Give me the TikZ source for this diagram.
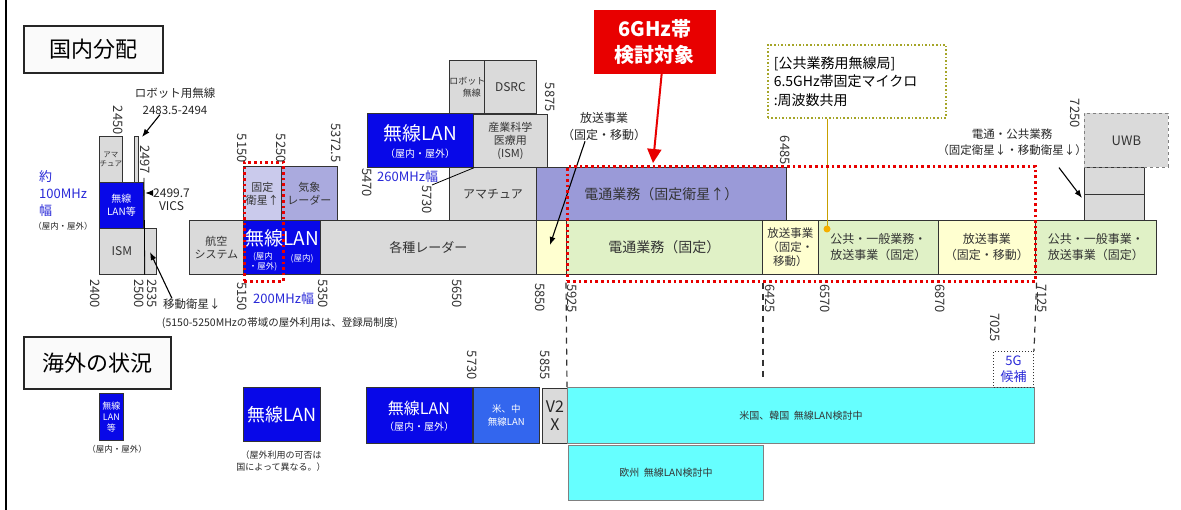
\documentclass[tikz,border=0pt]{standalone}
\usepackage{fontspec}
\setmainfont{Noto Sans CJK JP}
\usetikzlibrary{arrows.meta}
\usetikzlibrary{positioning}

\definecolor{wlanblue}{RGB}{8,8,232}
\definecolor{midblue}{RGB}{51,102,238}
\definecolor{boxgray}{RGB}{218,218,218}
\definecolor{lavdark}{RGB}{154,154,216}
\definecolor{lavmid}{RGB}{170,170,222}
\definecolor{lavlight}{RGB}{202,202,236}
\definecolor{paleyel}{RGB}{255,255,208}
\definecolor{palegrn}{RGB}{224,241,198}
\definecolor{aqua}{RGB}{102,255,255}
\definecolor{bandred}{RGB}{232,0,0}
\definecolor{notegold}{RGB}{165,165,40}
\definecolor{leadgold}{RGB}{200,160,0}
\definecolor{dotorange}{RGB}{245,175,0}
\definecolor{labelblue}{RGB}{40,40,215}

\tikzset{
  bandat/.style args={#1/#2/#3/#4}{anchor=north west, at={(#1,#2)},
    minimum width=#3pt-#1pt, minimum height=#4pt-#2pt},
  bandbox/.style={draw=black!80, line width=0.8pt, inner sep=0pt, align=center,
    text=black!80, font=\fontsize{11}{13}\selectfont},
  graybox/.style={bandbox, fill=boxgray},
  bluebox/.style={bandbox, fill=wlanblue, text=white},
  lavbox/.style={bandbox, fill=lavdark},
  yelbox/.style={bandbox, fill=paleyel},
  grnbox/.style={bandbox, fill=palegrn},
  aquabox/.style={bandbox, draw=black!50, fill=aqua, text=black!80, font=\fontsize{10}{12}\selectfont},
  titlebox/.style={draw=black!85, line width=2pt, fill=black!2, inner sep=0pt,
    font=\fontsize{22}{24}\selectfont},
  freq/.style={rotate=-90, inner sep=0pt, text=black!80, font=\fontsize{13}{13}\selectfont},
  annot/.style={inner sep=0pt, align=center, text=black!85, font=\fontsize{12}{17}\selectfont},
  bluetxt/.style={inner sep=0pt, text=labelblue, font=\fontsize{13}{17}\selectfont},
  arr/.style={line width=1.1pt, -{Latex[length=8pt,width=6pt]}},
  redframe/.style={draw=bandred, line width=2.6pt, dash pattern=on 2.6pt off 3pt, inner sep=0pt},
  guide/.style={draw=black!80, line width=1.2pt, dash pattern=on 6pt off 5pt},
}

\begin{document}
\begin{tikzpicture}[x=1pt, y=-1pt, >=latex]
  \useasboundingbox (0,0) rectangle (1181,510);
  \draw[line width=2pt] (6,0) -- (6,510);

  % titles
  \node[titlebox, bandat=23/25/162/72] (tdom) {国内分配};
  \node[titlebox, bandat=23/336/170/388] (tabr) {海外の状況};

  % 2.4GHz band
  \node[graybox, font=\fontsize{7.5}{9}\selectfont, bandat=99/136/122/182] (ama1) {アマ\\チュア};
  \node[graybox, bandat=134/136/138/182] (robo1) {};
  \node[bluebox, font=\fontsize{10}{13}\selectfont, bandat=99/182/143/228] (wlan1) {無線\\LAN等};
  \node[graybox, font=\fontsize{12}{14}\selectfont, bandat=99/228/144/274] (ism1) {ISM};
  \node[graybox, bandat=144/228/156/274] (mss1) {};
  \draw[line width=0.8pt] (144,178) -- (ism1.south east);

  \node[annot, font=\fontsize{11.5}{17}\selectfont] (robotxt) at (175,101) {ロボット用無線\\2483.5-2494};
  \coordinate (robotip) at (142,137);
  \draw[arr] ([xshift=-15pt]robotxt.south) -- (robotip);

  \node[annot, anchor=west] (vics) at (153,193) {2499.7};
  \node[annot, below=4pt of vics] (vicsname) {VICS};
  \coordinate (vicstip) at (145,193);
  \draw[arr] (vics.west) -- (vicstip);

  \node[annot, anchor=west, font=\fontsize{11.5}{14}\selectfont] (msstxt) at (163,304) {移動衛星↓};
  \coordinate (msstip) at (150,252);
  \draw[arr] ([xshift=9pt]msstxt.north west) -- (msstip);

  \node[bluetxt, anchor=north west, align=left] (w100) at (39,170) {約\\100MHz\\幅};
  \node[annot, font=\fontsize{8.5}{10}\selectfont] (w100io) at (63,226) {（屋内・屋外）};

  % 5GHz band
  \node[graybox, bandat=189/220/243/274] (aero) {航空\\システム};
  \node[bandbox, fill=lavlight, bandat=243/166/281/220] (fss1) {固定\\衛星↑};
  \node[bandbox, fill=lavmid, bandat=281/166/337/220] (metrad) {気象\\レーダー};
  \node[bluebox, bandat=243/220/320/274] (wlan2) {};
  \node[text=white, font=\fontsize{19}{19}\selectfont] (wlan2a) at (282,238) {無線LAN};
  \node[text=white, align=center, font=\fontsize{8.5}{10}\selectfont] (wlan2b) at (263,262) {(屋内\\・屋外)};
  \node[text=white, font=\fontsize{8.5}{10}\selectfont] (wlan2c) at (302,259) {(屋内)};
  \node[graybox, font=\fontsize{13}{15}\selectfont, bandat=320/220/536/274] (radar) {各種レーダー};
  \node[yelbox, bandat=536/220/566/274] (bsyel) {};

  \node[bluebox, bandat=367/113/473/167] (wlan3) {};
  \node[text=white, font=\fontsize{19}{19}\selectfont] (wlan3a) at (420,133) {無線LAN};
  \node[text=white, font=\fontsize{10}{12}\selectfont] (wlan3b) at (420,154) {（屋内・屋外）};
  \node[graybox, bandat=473/114/547/167] (ism2) {産業科学\\医療用\\(ISM)};
  \node[graybox, font=\fontsize{9}{12}\selectfont, bandat=449/60/478/113] (robo2) {ロボット用\\無線};
  \node[graybox, font=\fontsize{12}{14}\selectfont, bandat=484/60/536/113] (dsrc) {DSRC};
  \node[graybox, font=\fontsize{12}{14}\selectfont, bandat=449/167/536/220] (ama2) {アマチュア};

  \node[bluetxt, anchor=west] (w260) at (377,177) {260MHz幅};
  \node[bluetxt, anchor=west] (w200) at (253,299) {200MHz幅};
  \node[annot, font=\fontsize{10.5}{12}\selectfont] (regnote) at (280,323) {(5150-5250MHzの帯域の屋外利用は、登録局制度)};

  % 6GHz band
  \node[lavbox, font=\fontsize{14}{16}\selectfont, bandat=536/167/786/220] (fssup) {電通業務（固定衛星↑）};
  \node[grnbox, font=\fontsize{14}{16}\selectfont, bandat=566/220/762/274] (fixed) {電通業務（固定）};
  \node[yelbox, font=\fontsize{11.5}{14}\selectfont, bandat=762/220/818/274] (bs1) {放送事業\\（固定・\\移動）};
  \node[grnbox, font=\fontsize{12}{16}\selectfont, bandat=818/220/938/274] (pub1) {公共・一般業務・\\放送事業（固定）};
  \node[yelbox, font=\fontsize{12}{16}\selectfont, bandat=938/220/1035/274] (bs2) {放送事業\\（固定・移動）};
  \node[grnbox, font=\fontsize{12}{16}\selectfont, bandat=1035/220/1156/274] (pub2) {公共・一般事業・\\放送事業（固定）};
  \node[graybox, bandat=1084/194/1144/220] (sat1) {};
  \node[graybox, bandat=1084/167/1144/194] (sat2) {};
  \node[graybox, draw=black!50, dashed, font=\fontsize{13}{15}\selectfont, bandat=1084/113/1168/167] (uwb) {UWB};

  \node[annot] (bstxt) at (604,127) {放送事業\\（固定・移動）};
  \coordinate (bstip) at (550,245);
  \draw[arr] ([xshift=-19pt]bstxt.south) -- (bstip);

  \node[annot, font=\fontsize{11.5}{16}\selectfont] (sattxt) at (1012,142) {電通・公共業務\\（固定衛星↓・移動衛星↓）};
  \coordinate (sattip) at (1082,198);
  \draw[arr] ([shift={(-28,12)}]sattxt.south east) -- (sattip);

  \node[draw=bandred, fill=bandred, text=white, align=center, inner sep=0pt,
    font=\fontsize{20}{26}\bfseries\selectfont, bandat=594/10/715/73] (topic) {6GHz帯\\検討対象};
  \coordinate (redtip) at (653,163);
  \draw[bandred, line width=2pt, -{Triangle[length=14pt,width=14pt]}] ([xshift=7pt]topic.south) -- (redtip);

  \node[draw=notegold, line width=1.6pt, dotted, anchor=north west, align=left, inner sep=6pt,
    text width=166pt, minimum height=73pt, font=\fontsize{14}{18.5}\selectfont] (pubnote) at (767,44)
    {[公共業務用無線局]\\6.5GHz帯固定マイクロ\\:周波数共用};
  \coordinate (pubdot) at (827,229);
  \draw[leadgold, line width=1pt] (pubnote.south -| pubdot) -- (pubdot);
  \fill[dotorange] (pubdot) circle (3.5pt);

  % study frames
  \node[redframe, bandat=243/161/282/280] (band5g) {};
  \node[redframe, bandat=566/165/1034/280] (band6g) {};

  % frequency labels
  \foreach \f/\x/\y in {2400/100/279, 2500/144/279, 2535/157/279, 5150/247/282, 5350/328/279,
      5650/462/279, 5850/545/283, 5925/577/284, 6425/775/284, 6570/830/284, 6870/945/284,
      7125/1047/284, 7025/1000/313, 2497/150/145, 5470/372/168, 5730/432/185} {
    \node[freq, anchor=north west] (fb\f) at (\x,\y) {\f};
  }
  \foreach \f/\x/\y in {2450/123/135, 5150/247/163, 5250/286/163, 5875/555/112, 6485/790/165,
      7250/1080/128, 5730/477/380, 5855/550/380} {
    \node[freq, anchor=north east] (ft\f) at (\x,\y) {\f};
  }
  \node[freq, anchor=north east] (ftmet) at (341,163) {5372.5};
  \draw[line width=0.8pt] (fb5730.north west) -- (wlan3.south east);

  % overseas
  \node[bluebox, font=\fontsize{9}{11}\selectfont, bandat=99/393/123/440] (wlanS) {無線\\LAN\\等};
  \node[annot, font=\fontsize{8.5}{10}\selectfont] (wlanSio) at (117,449) {（屋内・屋外）};
  \node[bluebox, font=\fontsize{18}{20}\selectfont, bandat=243/387/320/441] (wlanB) {無線LAN};
  \node[annot, font=\fontsize{9}{12}\selectfont] (wlanBnote) at (281,461) {（屋外利用の可否は\\国によって異なる。）};
  \node[bluebox, bandat=366/387/472/443] (wlanC) {};
  \node[text=white, font=\fontsize{16}{16}\selectfont] (wlanCa) at (419,408) {無線LAN};
  \node[text=white, font=\fontsize{10}{12}\selectfont] (wlanCb) at (419,427) {（屋内・屋外）};
  \node[bandbox, fill=midblue, text=white, font=\fontsize{9.5}{13}\selectfont, bandat=473/387/539/443] (usc) {米、中\\無線LAN};
  \node[graybox, text=black!85, font=\fontsize{16}{18}\selectfont, bandat=542/388/567/443] (v2x) {V2\\X};
  \node[aquabox, bandat=567/387/1034/443] (uskr) {米国、韓国\ \ 無線LAN検討中};
  \node[aquabox, bandat=568/445/763/500] (eu) {欧州\ \ 無線LAN検討中};
  \node[draw=black!80, dotted, line width=1pt, inner sep=0pt, align=center, text=labelblue,
    font=\fontsize{13}{16}\selectfont, bandat=993/351/1033/387] (cand5g) {5G\\候補};

  \coordinate (g6425) at (763,378);
  \draw[guide] (band6g.south west) -- (uskr.north west);
  \draw[guide] (band6g.south -| g6425) -- (g6425);
  \draw[guide] (band6g.south east) -- (cand5g.north east);
\end{tikzpicture}
\end{document}
